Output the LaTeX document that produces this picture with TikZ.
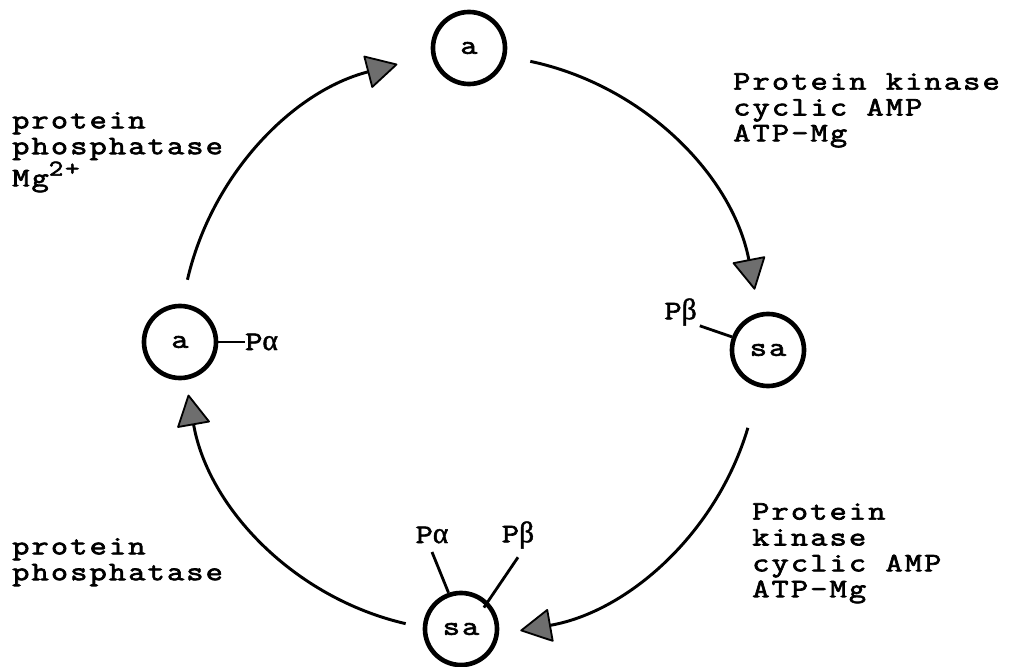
\documentclass[tikz,border=0pt]{standalone}
\usepackage{fontspec}
\usetikzlibrary{arrows.meta, positioning, calc}
\newfontfamily\typer[FakeStretch=1.25, LetterSpace=8, FakeBold=2.6]{Latin Modern Mono}
\newfontfamily\grk[FakeBold=1.5]{Liberation Serif}
\definecolor{inkgray}{HTML}{6E6E6E}
\newcommand{\supr}[1]{\raisebox{0.4em}{\fontsize{16}{16}\selectfont#1}}

\begin{document}
\begin{tikzpicture}[
  x=0.025cm, y=0.025cm,
  enz/.style={circle, draw, line width=3.3pt, minimum size=1.8cm, inner sep=0pt, font=\typer\fontsize{19}{19}\selectfont},
  lbl/.style={inner sep=0pt, align=left, font=\typer\fontsize{19}{18.4}\selectfont},
  cyc/.style={line width=2.1pt, -{Triangle[length=0.8cm, width=0.85cm, fill=inkgray, line width=1.3pt, round]}},
  tie/.style={line width=2pt},
]

% Frame
\useasboundingbox (0,0) rectangle (1014,666);
\coordinate (ctr) at (470,321);

% Enzyme forms
\node[enz] (top) at (469,618) {a};
\node[enz] (lft) at (180,324) {a};
\node[enz] (rgt) at (768,316) {sa};
\node[enz] (bot) at (461,37) {sa};

% Phosphate sites
\node[lbl, anchor=west] (pal) at (245,324) {P{\grk\fontsize{21}{21}\selectfont α}};
\draw[tie] (lft.east) -- (pal.west);
\node[lbl, anchor=east] (pbr) at (697,354) {P{\grk\fontsize{21}{21}\selectfont β}};
\draw[tie] ([xshift=2pt]pbr.south east) -- (rgt.160);
\node[lbl] (pab) at (432,131) {P{\grk\fontsize{21}{21}\selectfont α}};
\node[lbl] (pbb) at (518,131) {P{\grk\fontsize{21}{21}\selectfont β}};
\draw[tie] ([yshift=-6pt]pab.south) -- (bot.109);
\draw[tie] ([yshift=-6pt]pbb.south) -- ([shift={(-3pt,-4pt)}]bot.45);

% Cycle arrows
\draw[cyc] ([shift={(78:290)}]ctr) arc[start angle=78, end angle=11, radius=290];
\draw[cyc] ([shift={(-16.6:290)}]ctr) arc[start angle=-16.6, end angle=-80, radius=290];
\draw[cyc] ([shift={(-103:286)}]ctr) arc[start angle=-103, end angle=-170, radius=286];
\draw[cyc] ([shift={(167:290)}]ctr) arc[start angle=167, end angle=104.5, radius=290];

% Enzymes and cofactors
\node[lbl, anchor=north west] (kin1) at (733,593) {Protein kinase\\cyclic AMP\\ATP-Mg};
\node[lbl, anchor=north west] (kin2) at (752,163) {Protein\\kinase\\cyclic AMP\\ATP-Mg};
\node[lbl, anchor=north west] (pho1) at (12,554) {protein\\phosphatase\\Mg\supr{2+}};
\node[lbl, anchor=north west] (pho2) at (12,128) {protein\\phosphatase};

\end{tikzpicture}
\end{document}
